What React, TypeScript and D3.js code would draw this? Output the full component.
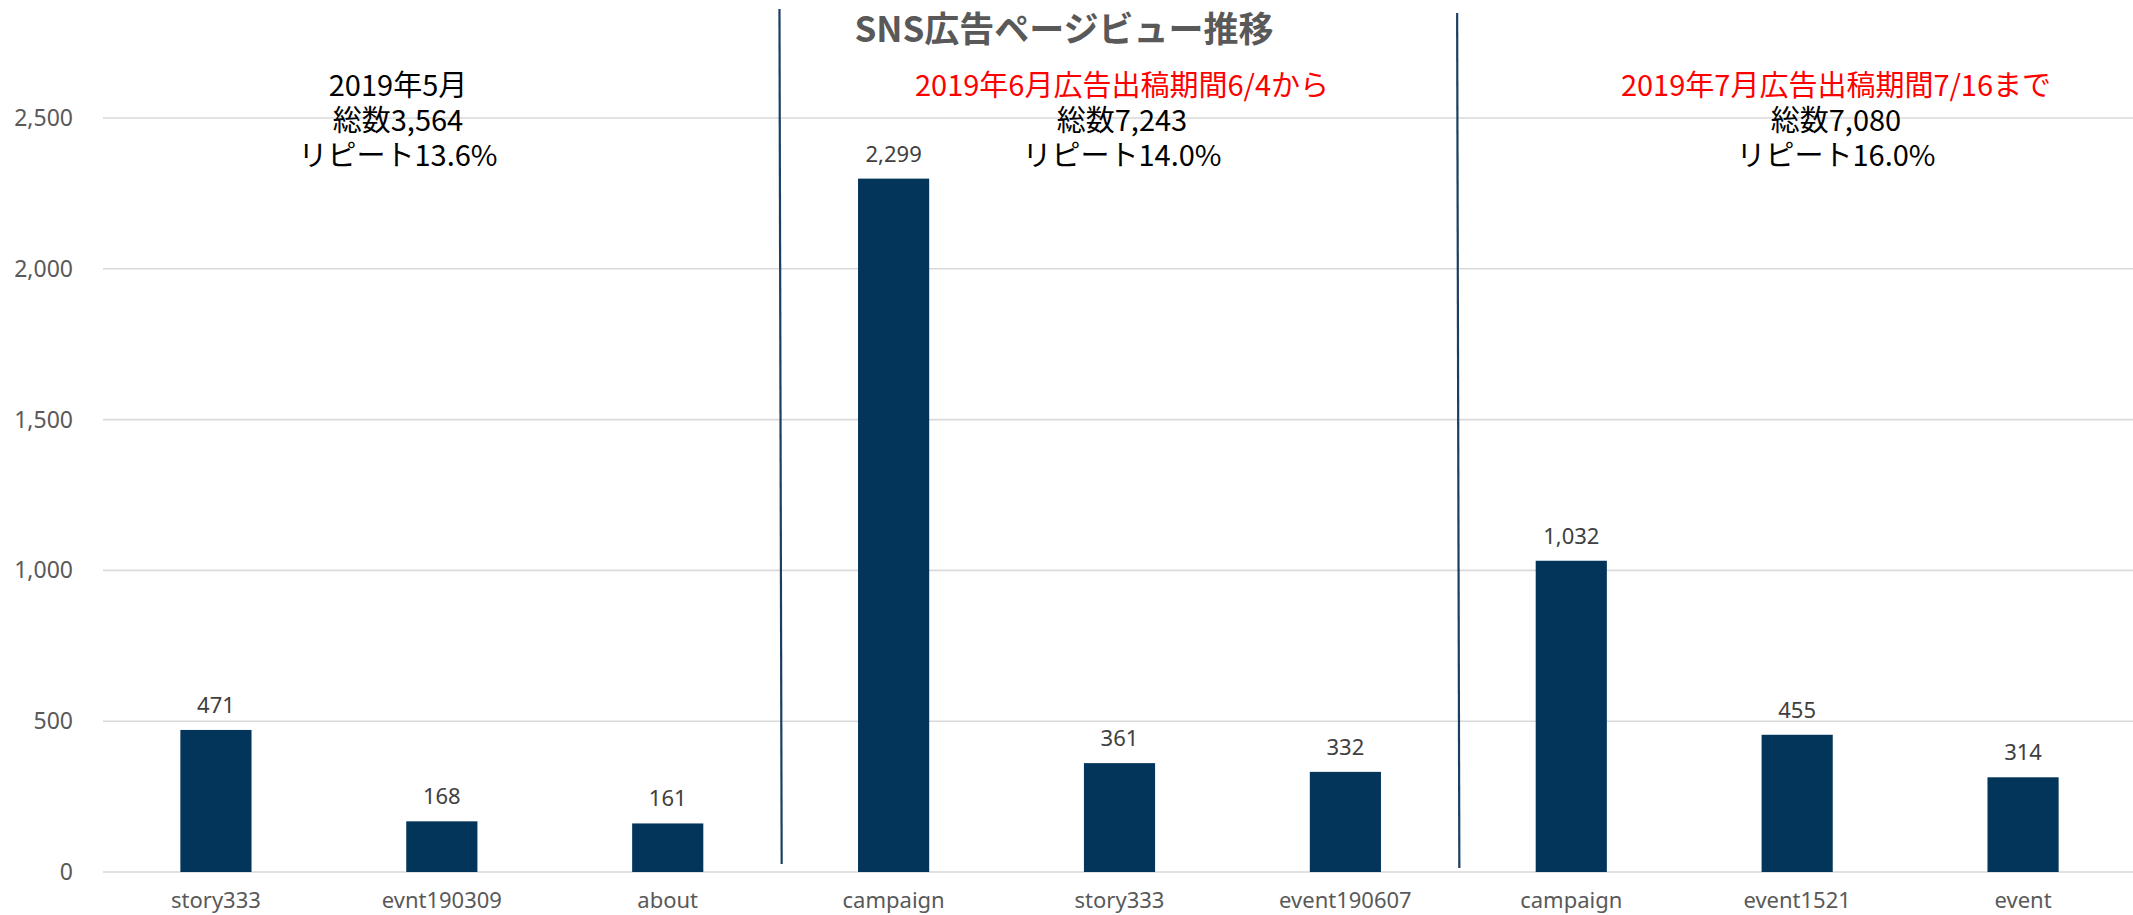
import React from 'react';
import * as d3 from 'd3';

const categories = ['story333', 'evnt190309', 'about', 'campaign', 'story333', 'event190607', 'campaign', 'event1521', 'event'];
const values = [471, 168, 161, 2299, 361, 332, 1032, 455, 314];
const yTicks = [0, 500, 1000, 1500, 2000, 2500];
const periodHeads = ['2019年5月', '2019年6月広告出稿期間6/4から', '2019年7月広告出稿期間7/16まで'];
const periodIsAd = [false, true, true];
const periodTotals = ['総数3,564', '総数7,243', '総数7,080'];
const periodRepeats = ['リピート13.6%', 'リピート14.0%', 'リピート16.0%'];
const separatorAfter = [3, 6];
const title = 'SNS広告ページビュー推移';

const W = 2133;
const H = 915;
const M = { left: 103, right: 0, top: 118, bottom: 43 };
const BAR = '#03355A';
const AX = '#595959';
const CJK = '"Noto Sans CJK JP", "Noto Sans", sans-serif';
const LAT = '"Noto Sans", "Noto Sans CJK JP", sans-serif';

export default function App() {
  const x = d3
    .scaleBand<number>()
    .domain(categories.map((_, i) => i))
    .range([M.left, W + 3])
    .paddingInner(0.685)
    .paddingOuter(0.3425);
  const y = d3.scaleLinear().domain([0, 2500]).range([H - M.bottom, M.top]);
  const step = x.step();
  const fmt = d3.format(',');
  const boundary = (i: number) => (x(i) as number) - (step - x.bandwidth()) / 2;
  const groupX = [398, 1122, 1836];
  const sepTop = [9, 13];
  const sepBottom = [864, 868];

  return (
    <svg
      width={W}
      height={H}
      style={{ position: 'absolute', left: 0, top: 0, display: 'block', background: '#fff' }}
    >
      {yTicks.map((t) => (
        <g key={t}>
          <line x1={M.left} x2={W} y1={y(t)} y2={y(t)} stroke="#d9d9d9" strokeWidth={1.6} />
          <text
            x={73}
            y={y(t)}
            dy="0.35em"
            textAnchor="end"
            fontFamily={LAT}
            fontSize={23}
            fill={AX}
          >
            {fmt(t)}
          </text>
        </g>
      ))}
      {values.map((v, i) => (
        <g key={i}>
          <rect x={x(i)} y={y(v)} width={x.bandwidth()} height={y(0) - y(v)} fill={BAR} />
          <text
            x={(x(i) as number) + x.bandwidth() / 2}
            y={y(v) - 17}
            textAnchor="middle"
            fontFamily={LAT}
            fontSize={22}
            fill="#404040"
          >
            {fmt(v)}
          </text>
          <text
            x={(x(i) as number) + x.bandwidth() / 2}
            y={908}
            textAnchor="middle"
            fontFamily={LAT}
            fontSize={22}
            fill={AX}
          >
            {categories[i]}
          </text>
        </g>
      ))}
      {separatorAfter.map((c, k) => (
        <line
          key={c}
          x1={boundary(c) - 1.2}
          x2={boundary(c) + 1}
          y1={sepTop[k]}
          y2={sepBottom[k]}
          stroke="#1B3F63"
          strokeWidth={2.2}
        />
      ))}
      <text
        x={1064}
        y={42}
        textAnchor="middle"
        fontFamily={CJK}
        fontWeight={700}
        fontSize={35}
        fill={AX}
      >
        {title}
      </text>
      {periodHeads.map((h, k) => (
        <g key={k} fontFamily={CJK} fontSize={29} textAnchor="middle">
          <text x={groupX[k]} y={96} fill={periodIsAd[k] ? '#FF0000' : '#000'}>
            {h}
          </text>
          <text x={groupX[k]} y={131} fill="#000">
            {periodTotals[k]}
          </text>
          <text x={groupX[k]} y={166} fill="#000">
            {periodRepeats[k]}
          </text>
        </g>
      ))}
    </svg>
  );
}
